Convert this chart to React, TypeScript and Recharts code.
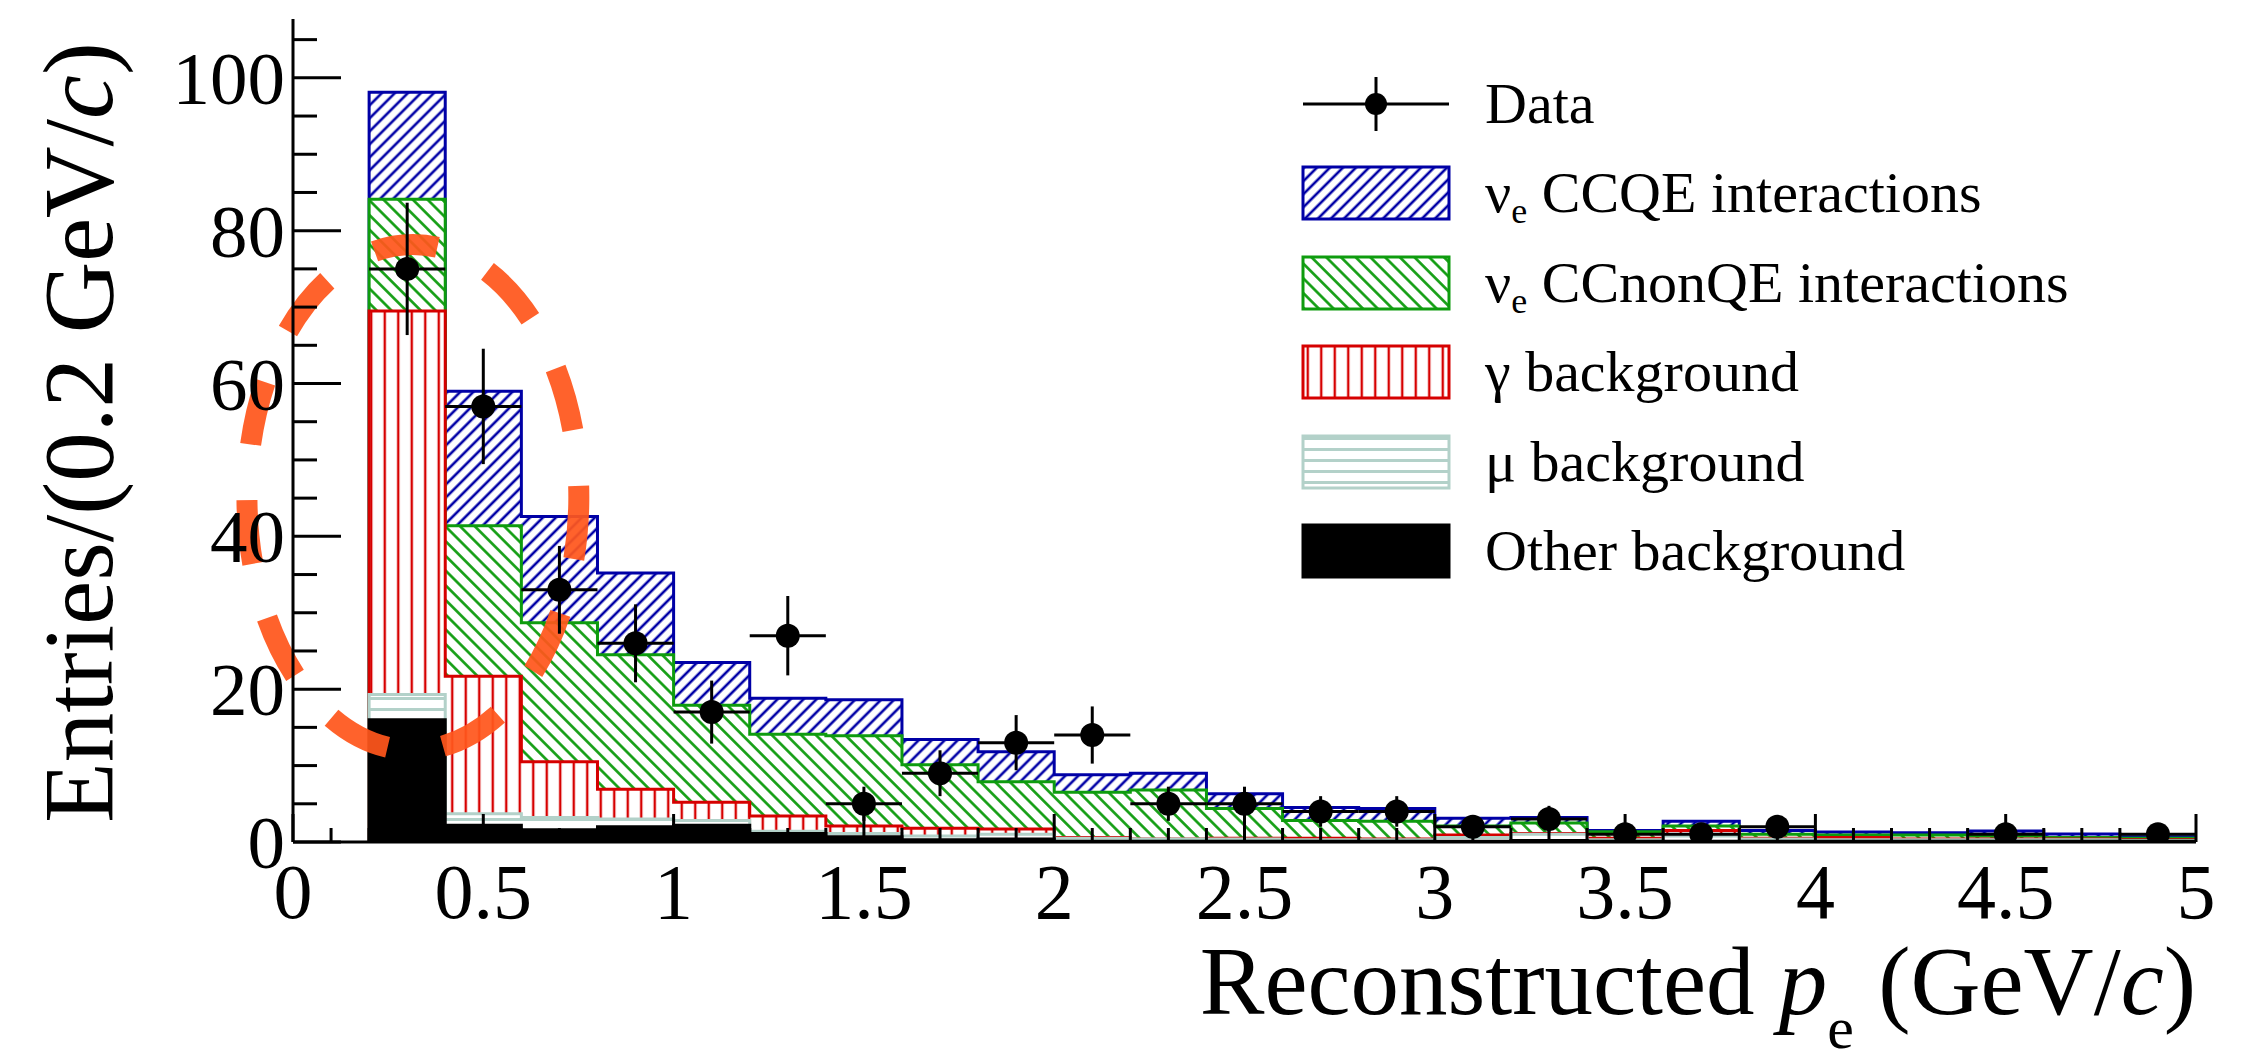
import React from "react";
import {
  Area,
  ComposedChart,
  ErrorBar,
  Legend,
  ReferenceArea,
  Scatter,
  XAxis,
  YAxis,
} from "recharts";

const FONT = "'Liberation Serif', 'Times New Roman', serif";

// histogram binning (GeV/c), 0.2 wide
const binWidth = 0.2;
const binLow = [
  0.2, 0.4, 0.6, 0.8, 1.0, 1.2, 1.4, 1.6, 1.8, 2.0, 2.2, 2.4, 2.6, 2.8, 3.0, 3.2,
  3.4, 3.6, 3.8, 4.0, 4.2, 4.4, 4.6, 4.8,
];

// MC components per bin (stacked bottom -> top)
const otherBg = [
  16.0, 2.2, 1.6, 2.0, 2.2, 1.1, 0.7, 0.3, 0.4, 0.1, 0.1, 0.1, 0.1, 0.1, 0.1, 0.2,
  0.1, 0.1, 0.1, 0.1, 0.1, 0.1, 0.1, 0.1,
];
const muBg = [
  3.3, 1.5, 1.6, 1.0, 0.6, 0.3, 0.4, 0.5, 0.6, 0.4, 0.3, 0.3, 0.2, 0.2, 0.5, 0.8,
  0.2, 0.7, 0.3, 0.2, 0.2, 0.2, 0.2, 0.1,
];
const gammaBg = [
  50.2, 18.0, 7.3, 3.9, 2.4, 2.0, 1.0, 1.0, 0.7, 0.1, 0.0, 0.1, 0.2, 0.1, 0.3, 0.1,
  0.2, 0.7, 0.1, 0.3, 0.1, 0.1, 0.1, 0.1,
];
const ccNonQE = [
  14.6, 19.7, 18.2, 17.6, 12.7, 10.7, 11.8, 8.3, 6.2, 5.9, 6.4, 3.9, 2.3, 2.3, 1.2,
  1.4, 0.85, 0.6, 0.5, 0.3, 0.5, 0.4, 0.2, 0.2,
];
const ccQE = [
  14.0, 17.6, 13.9, 10.7, 5.6, 4.7, 4.7, 3.3, 3.9, 2.3, 2.2, 1.9, 1.7, 1.7, 1.0, 0.7,
  0.15, 0.6, 0.5, 0.4, 0.3, 0.65, 0.45, 0.2,
];

// observed entries per bin
const dataCounts = [
  75, 57, 33, 26, 17, 27, 5, 9, 13, 14, 5, 5, 4, 4, 2, 3, 1, 1, 2, 0, 0, 1, 0, 1,
];

const xMajorTicks = [0, 0.5, 1, 1.5, 2, 2.5, 3, 3.5, 4, 4.5, 5];
const xTickLabels = ["0", "0.5", "1", "1.5", "2", "2.5", "3", "3.5", "4", "4.5", "5"];
const yMajorTicks = [0, 20, 40, 60, 80, 100];
const yTickLabels = ["0", "20", "40", "60", "80", "100"];
const Y_MAX = 107.7;

// the highlighted region (dashed ellipse), in axis units
const ellipseX = [-0.121, 0.751];
const ellipseY = [12.0, 78.2];

const C_BLUE = "#0000a6";
const C_GREEN = "#0e9c0e";
const C_RED = "#d60000";
const C_MU = "#b3d1c9";

const xMinorTicks = Array.from({ length: 51 }, (_, i) => i / 10);
const yMinorTicks = Array.from({ length: 22 }, (_, i) => i * 5);

const isMul = (v: number, step: number) => Math.abs(v / step - Math.round(v / step)) < 1e-6;

// cumulative stack, drawn from the total down so lower ones sit on top
const layers = otherBg.map((_, i) => {
  const o = otherBg[i];
  const m = o + muBg[i];
  const g = m + gammaBg[i];
  const n = g + ccNonQE[i];
  const q = n + ccQE[i];
  return { other: o, mu: m, gamma: g, nonqe: n, ccqe: q };
});
const zero = { other: 0, mu: 0, gamma: 0, nonqe: 0, ccqe: 0 };
const lastEdge = binLow[binLow.length - 1] + binWidth;
const histRows = [
  { x: binLow[0], ...zero },
  ...binLow.map((x, i) => ({ x, ...layers[i] })),
  { x: lastEdge, ...layers[layers.length - 1] },
  { x: lastEdge, ...zero },
];

const dataPoints = binLow
  .map((lo, i) => ({
    x: lo + binWidth / 2,
    y: dataCounts[i],
    ex: binWidth / 2,
    ey: Math.sqrt(dataCounts[i]),
  }))
  .filter((p) => p.y > 0);

function BottomTick(props: any) {
  const { x, y, payload } = props;
  const v = payload.value as number;
  const major = isMul(v, 0.5);
  const idx = xMajorTicks.findIndex((t) => Math.abs(t - v) < 1e-6);
  return (
    <g>
      <line x1={x} x2={x} y1={y} y2={y - (major ? 28 : 14)} stroke="#000" strokeWidth={3} />
      {major && idx >= 0 ? (
        <text x={x} y={y + 76} textAnchor="middle" fontSize={78} fontFamily={FONT} fill="#000">
          {xTickLabels[idx]}
        </text>
      ) : null}
    </g>
  );
}

function TopTick(props: any) {
  const { x, y, payload } = props;
  const major = isMul(payload.value, 0.5);
  return <line x1={x} x2={x} y1={y} y2={y + (major ? 28 : 14)} stroke="#000" strokeWidth={3} />;
}

function LeftTick(props: any) {
  const { x, y, payload } = props;
  const v = payload.value as number;
  const major = isMul(v, 20);
  const idx = yMajorTicks.indexOf(v);
  return (
    <g>
      <line x1={x} x2={x + (major ? 48 : 24)} y1={y} y2={y} stroke="#000" strokeWidth={3} />
      {major && idx >= 0 ? (
        <text x={x - 8} y={y + 26} textAnchor="end" fontSize={75} fontFamily={FONT} fill="#000">
          {yTickLabels[idx]}
        </text>
      ) : null}
    </g>
  );
}

function RightTick(props: any) {
  const { x, y, payload } = props;
  const major = isMul(payload.value, 20);
  return <line x1={x} x2={x - (major ? 48 : 24)} y1={y} y2={y} stroke="#000" strokeWidth={3} />;
}

const legendEntries = [
  { key: "data", nu: false, text: "Data" },
  { key: "ccqe", nu: true, text: " CCQE interactions", fill: "url(#hatchBlue)", stroke: C_BLUE },
  { key: "nonqe", nu: true, text: " CCnonQE interactions", fill: "url(#hatchGreen)", stroke: C_GREEN },
  { key: "gamma", nu: false, text: "\u03b3 background", fill: "url(#hatchRed)", stroke: C_RED },
  { key: "mu", nu: false, text: "\u03bc background", fill: "url(#hatchMu)", stroke: C_MU },
  { key: "other", nu: false, text: "Other background", fill: "#000", stroke: "#000" },
];

function LegendBox() {
  return (
    <div style={{ fontFamily: FONT, fontSize: 58, color: "#000" }}>
      {legendEntries.map((e) => (
        <div key={e.key} style={{ display: "flex", alignItems: "center", height: 89.5 }}>
          <svg width={150} height={58} style={{ flex: "none", display: "block" }}>
            {e.key === "data" ? (
              <g>
                <line x1={2} x2={148} y1={29} y2={29} stroke="#000" strokeWidth={3} />
                <line x1={75} x2={75} y1={2} y2={56} stroke="#000" strokeWidth={3} />
                <circle cx={75} cy={29} r={11} fill="#000" />
              </g>
            ) : (
              <rect x={2} y={3} width={146} height={52} fill={e.fill} stroke={e.stroke} strokeWidth={3} />
            )}
          </svg>
          <span style={{ marginLeft: 34, whiteSpace: "nowrap", lineHeight: 1 }}>
            {e.nu ? (
              <>
                {"\u03bd"}
                <span style={{ fontSize: 36, position: "relative", top: 11 }}>e</span>
              </>
            ) : null}
            {e.text}
          </span>
        </div>
      ))}
    </div>
  );
}

function YTitle() {
  return (
    <text
      transform="rotate(-90)"
      x={-42}
      y={112}
      textAnchor="end"
      fontSize={99}
      fontFamily={FONT}
      fill="#000"
    >
      Entries/(0.2 GeV/<tspan fontStyle="italic">c</tspan>)
    </text>
  );
}

function XTitle(props: any) {
  const vb = props.viewBox || {};
  const right = (vb.x ?? 293) + (vb.width ?? 1903);
  const base = (vb.y ?? 842) + 172;
  return (
    <text x={right} y={base} textAnchor="end" fontSize={97} fontFamily={FONT} fill="#000">
      Reconstructed <tspan fontStyle="italic">p</tspan>
      <tspan fontSize={60} dy={34}>e</tspan>
      <tspan dy={-34}> (GeV/</tspan>
      <tspan fontStyle="italic">c</tspan>)
    </text>
  );
}

const areaOrder = [
  { key: "ccqe", fill: "url(#hatchBlue)", stroke: C_BLUE },
  { key: "nonqe", fill: "url(#hatchGreen)", stroke: C_GREEN },
  { key: "gamma", fill: "url(#hatchRed)", stroke: C_RED },
  { key: "mu", fill: "url(#hatchMu)", stroke: C_MU },
  { key: "other", fill: "#000", stroke: "#000" },
];

export default function App() {
  return (
    <div style={{ position: "absolute", left: 0, top: 0, background: "#fff" }}>
      <ComposedChart
        width={2250}
        height={1063}
        data={histRows}
        margin={{ top: 19, right: 54, bottom: 0, left: 0 }}
      >
        <defs>
          <pattern id="hatchBlue" patternUnits="userSpaceOnUse" width={9.2} height={9.2} patternTransform="rotate(45)">
            <rect width={9.2} height={9.2} fill="#fff" />
            <line x1={4.6} x2={4.6} y1={0} y2={9.2} stroke={C_BLUE} strokeWidth={2.6} />
          </pattern>
          <pattern id="hatchGreen" patternUnits="userSpaceOnUse" width={10.4} height={10.4} patternTransform="rotate(-45)">
            <rect width={10.4} height={10.4} fill="#fff" />
            <line x1={5.2} x2={5.2} y1={0} y2={10.4} stroke={C_GREEN} strokeWidth={2.6} />
          </pattern>
          <pattern id="hatchRed" patternUnits="userSpaceOnUse" width={13.5} height={13.5}>
            <rect width={13.5} height={13.5} fill="#fff" />
            <line x1={6.75} x2={6.75} y1={0} y2={13.5} stroke={C_RED} strokeWidth={2.4} />
          </pattern>
          <pattern id="hatchMu" patternUnits="userSpaceOnUse" width={11} height={11}>
            <rect width={11} height={11} fill="#fff" />
            <line x1={0} x2={11} y1={5.5} y2={5.5} stroke={C_MU} strokeWidth={3} />
          </pattern>
        </defs>

        <XAxis
          xAxisId="b"
          dataKey="x"
          type="number"
          domain={[0, 5]}
          allowDataOverflow
          ticks={xMinorTicks}
          interval={0}
          height={221}
          tickSize={0}
          tickMargin={0}
          tickLine={false}
          axisLine={{ stroke: "#000", strokeWidth: 3 }}
          tick={BottomTick}
          label={{ content: XTitle }}
        />
        <XAxis
          xAxisId="t"
          orientation="top"
          type="number"
          domain={[0, 5]}
          allowDataOverflow
          ticks={xMinorTicks}
          interval={0}
          height={0}
          tickSize={0}
          tickMargin={0}
          tickLine={false}
          axisLine={{ stroke: "#000", strokeWidth: 3 }}
          tick={TopTick}
        />
        <YAxis
          yAxisId="l"
          type="number"
          domain={[0, Y_MAX]}
          allowDataOverflow
          ticks={yMinorTicks}
          interval={0}
          width={293}
          tickSize={0}
          tickMargin={0}
          tickLine={false}
          axisLine={{ stroke: "#000", strokeWidth: 3 }}
          tick={LeftTick}
          label={{ content: YTitle }}
        />
        <YAxis
          yAxisId="r"
          orientation="right"
          type="number"
          domain={[0, Y_MAX]}
          allowDataOverflow
          ticks={yMinorTicks}
          interval={0}
          width={0}
          tickSize={0}
          tickMargin={0}
          tickLine={false}
          axisLine={{ stroke: "#000", strokeWidth: 3 }}
          tick={RightTick}
        />

        {areaOrder.map((a) => (
          <Area
            key={a.key}
            xAxisId="b"
            yAxisId="l"
            type="stepAfter"
            dataKey={a.key}
            fill={a.fill}
            fillOpacity={1}
            stroke={a.stroke}
            strokeWidth={3}
            dot={false}
            activeDot={false}
            isAnimationActive={false}
          />
        ))}

        <Scatter
          xAxisId="b"
          yAxisId="l"
          data={dataPoints}
          dataKey="y"
          isAnimationActive={false}
          shape={(p: any) => <circle cx={p.cx} cy={p.cy} r={12} fill="#000" />}
        >
          <ErrorBar dataKey="ey" direction="y" width={0} stroke="#000" strokeWidth={3} isAnimationActive={false} />
          <ErrorBar dataKey="ex" direction="x" width={0} stroke="#000" strokeWidth={3} isAnimationActive={false} />
        </Scatter>

        <ReferenceArea
          xAxisId="b"
          yAxisId="l"
          x1={ellipseX[0]}
          x2={ellipseX[1]}
          y1={ellipseY[0]}
          y2={ellipseY[1]}
          ifOverflow="visible"
          shape={(p: any) => (
            <ellipse
              cx={p.x + p.width / 2}
              cy={p.y + p.height / 2}
              rx={Math.abs(p.width) / 2}
              ry={Math.abs(p.height) / 2}
              fill="none"
              stroke="#ff561c"
              strokeOpacity={0.93}
              strokeWidth={21}
              strokeDasharray="64 56"
              strokeDashoffset={2}
            />
          )}
        />

        <Legend
          layout="vertical"
          align="center"
          verticalAlign="middle"
          wrapperStyle={{ left: 1301, top: 59, width: 760, right: "auto", bottom: "auto" }}
          content={() => <LegendBox />}
        />
      </ComposedChart>
    </div>
  );
}
